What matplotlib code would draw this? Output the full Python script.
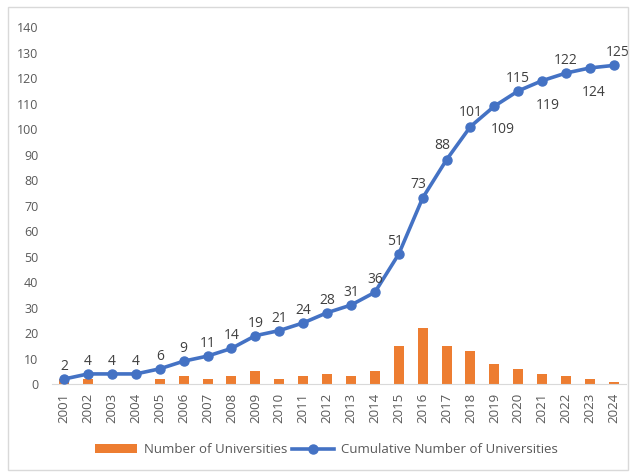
import numpy as np
import matplotlib.pyplot as plt
from matplotlib.patches import Rectangle

plt.rcParams['font.family'] = ['Open Sans', 'DejaVu Sans']

years = [str(y) for y in range(2001, 2025)]
new_unis = [2, 2, 0, 0, 2, 3, 2, 3, 5, 2, 3, 4, 3, 5, 15, 22, 15, 13, 8, 6, 4, 3, 2, 1]
cumulative = [2, 4, 4, 4, 6, 9, 11, 14, 19, 21, 24, 28, 31, 36, 51, 73, 88, 101, 109, 115, 119, 122, 124, 125]
# label offsets in points (dx, dy)
label_offsets = [(0, 9)] * 14 + [(-3, 9), (-3, 10), (-3, 10), (0, 10), (6, -17), (0, 9), (4, -18), (0, 9), (3, -18), (3, 9)]

orange = '#ED7D31'
blue = '#4472C4'
grey = '#595959'

fig = plt.figure(figsize=(6.36, 4.76), dpi=100)
ax = fig.add_axes([0.082, 0.193, 0.902, 0.75])
x = np.arange(len(years))

bars = ax.bar(x, new_unis, width=0.42, color=orange, label='Number of Universities', zorder=2)
line, = ax.plot(x, cumulative, color=blue, lw=2.6, marker='o', ms=6.5, label='Cumulative Number of Universities', zorder=3)

for xi, v, (dx, dy) in zip(x, cumulative, label_offsets):
    ax.annotate(str(v), (xi, v), xytext=(dx, dy), textcoords='offset points',
                ha='center', va='center', fontsize=10, color='#404040')

ax.set_xlim(-0.5, len(years) - 0.5)
ax.set_ylim(0, 140)
ax.set_yticks(range(0, 141, 10))
ax.set_xticks(x)
ax.set_xticklabels(years, rotation=90)
ax.tick_params(axis='both', length=0, colors=grey, labelsize=9)
ax.tick_params(axis='x', labelsize=9.5, pad=6)
ax.tick_params(axis='y', pad=10)
for s in ['top', 'right', 'left']:
    ax.spines[s].set_visible(False)
ax.spines['bottom'].set_color('#D9D9D9')

fig.legend(handles=[bars, line], loc='center', bbox_to_anchor=(0.513, 0.055), ncol=2, frameon=False,
           fontsize=9.5, labelcolor=grey, handlelength=3.2, columnspacing=0.4, handletextpad=0.5)

fig.patches.append(Rectangle((0.013, 0.012), 0.975, 0.974, transform=fig.transFigure,
                             fill=False, edgecolor='#D9D9D9', lw=1))

fig.savefig('out.png', dpi=100)
